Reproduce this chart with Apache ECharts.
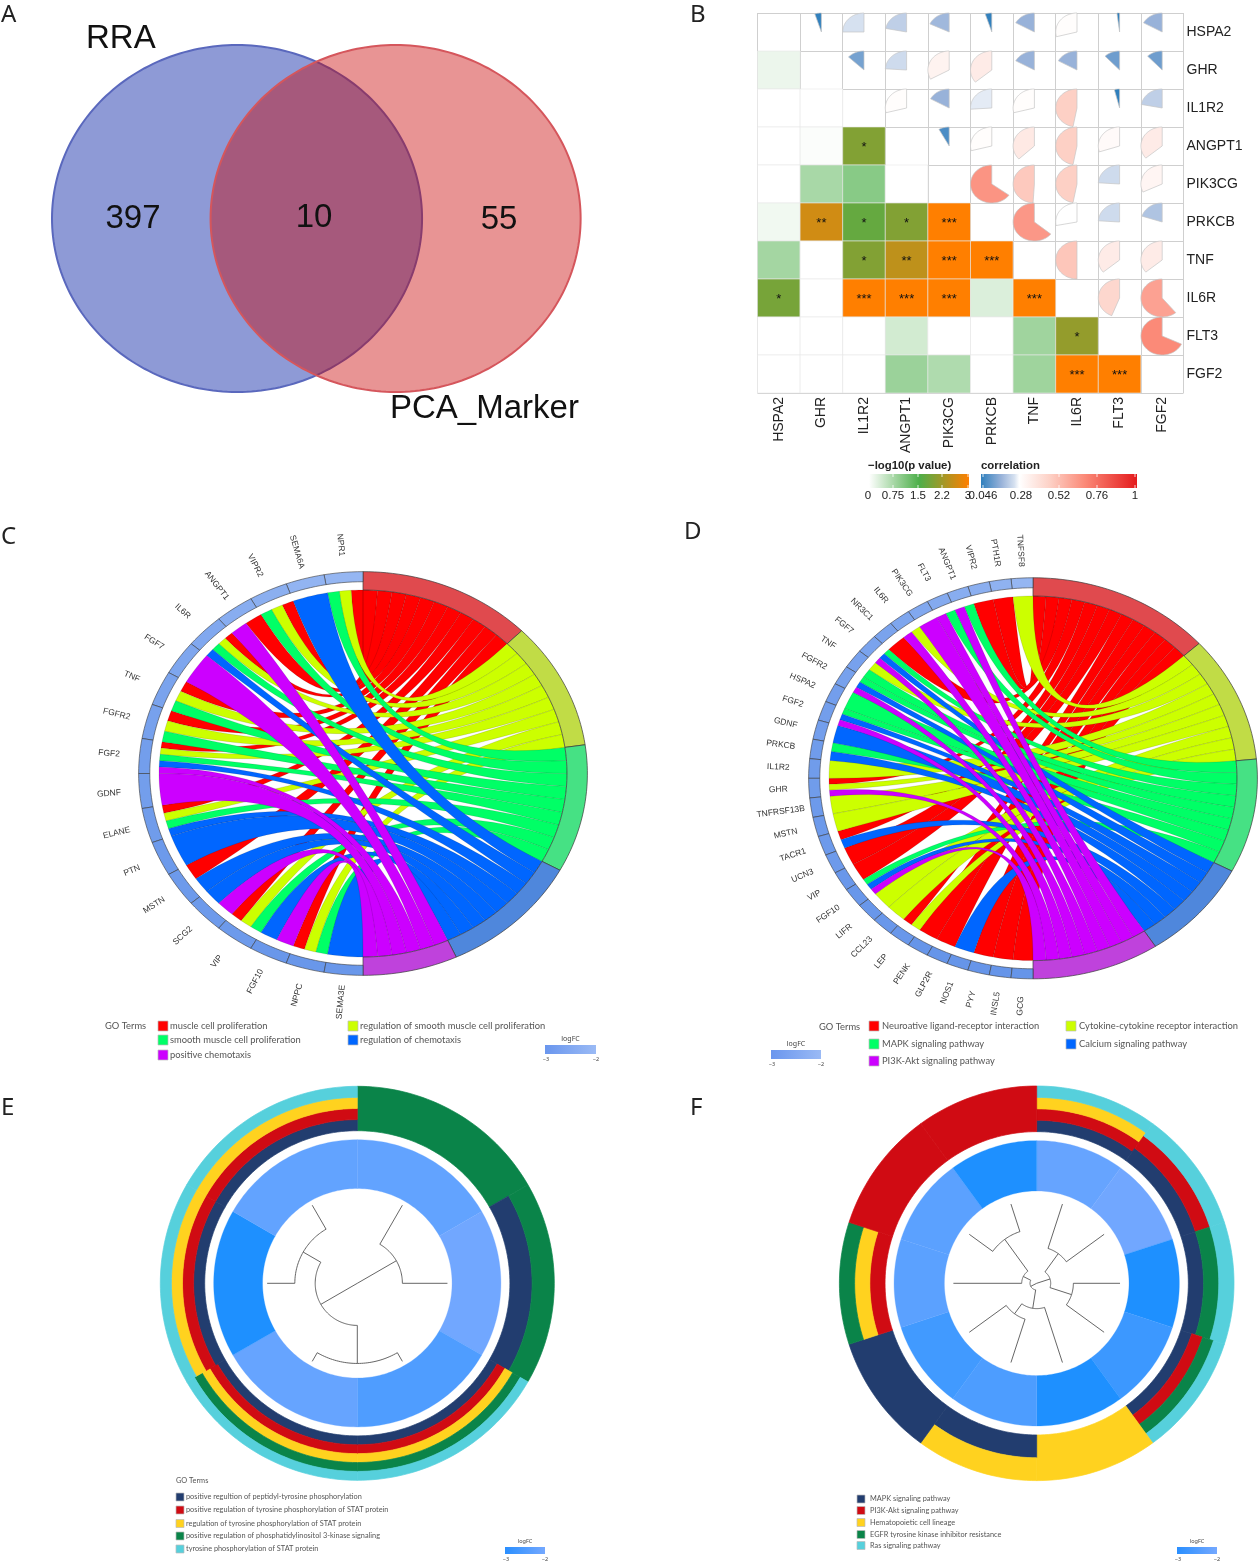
<!DOCTYPE html>
<html>
<head>
<meta charset="utf-8">
<title>figure</title>
<script src="https://cdn.jsdelivr.net/npm/echarts@6/dist/echarts.min.js"></script>
<style>
    html, body { margin: 0; background: #fff; }
    #main { width: 1259px; height: 1562px; }
</style>
</head>
<body>
<div id="main"></div>
<script>
// A: venn
var vennNames = ['RRA', 'PCA_Marker'];
var vennCounts = [397, 10, 55];

// B: correlation matrix
var corrGenes = ['HSPA2', 'GHR', 'IL1R2', 'ANGPT1', 'PIK3CG', 'PRKCB', 'TNF', 'IL6R', 'FLT3', 'FGF2'];
var logPRows = [
    [],
    [0.16],
    [0, 0],
    [0, 0.03, 1.95],
    [0, 0.73, 1, 0],
    [0.12, 2.6, 1.7, 1.95, 3],
    [0.77, 0, 1.95, 2.45, 3, 3],
    [1.85, 0, 3, 3, 3, 0.3, 3],
    [0, 0, 0, 0.38, 0, 0, 0.8, 2.1],
    [0, 0, 0, 0.84, 0.67, 0, 0.81, 3, 3]
];
var corrRows = [
    [0.05, 0.25, 0.22, 0.18, 0.05, 0.17, 0.29, 0.02, 0.17],
    [0.13, 0.24, 0.33, 0.36, 0.17, 0.17, 0.12, 0.12],
    [0.29, 0.17, 0.26, 0.29, 0.47, 0.04, 0.22],
    [0.08, 0.29, 0.37, 0.47, 0.3, 0.36],
    [0.65, 0.49, 0.47, 0.24, 0.32],
    [0.64, 0.28, 0.24, 0.2],
    [0.5, 0.36, 0.36],
    [0.44, 0.61],
    [0.68]
];
var logPTicks = ['0', '0.75', '1.5', '2.2', '3'];
var corrTicks = ['0.046', '0.28', '0.52', '0.76', '1'];

// C: chord of GO terms
var chordCTerms = ['muscle cell proliferation', 'regulation of smooth muscle cell proliferation', 'smooth muscle cell proliferation', 'regulation of chemotaxis', 'positive chemotaxis'];
var chordCGenes = ['NPR1', 'SEMA6A', 'VIPR2', 'ANGPT1', 'IL6R', 'FGF7', 'TNF', 'FGFR2', 'FGF2', 'GDNF', 'ELANE', 'PTN', 'MSTN', 'SCG2', 'VIP', 'FGF10', 'NPPC', 'SEMA3E'];
var chordCLogFC = [-2.2, -2.25, -2.35, -2.4, -2.5, -2.55, -2.6, -2.65, -2.7, -2.7, -2.75, -2.8, -2.8, -2.8, -2.8, -2.85, -2.85, -2.85];
var chordCMembers = [[0, 1, 2], [3], [0, 1, 2], [0, 4], [0, 1, 2, 3], [4], [0, 1, 2], [0, 1, 2], [0, 1, 2, 3, 4], [4], [0, 1, 2, 3], [3], [0, 3], [3, 4], [0, 1, 2], [3, 4], [0, 1, 2], [3]];

// D: chord of pathways
var chordDTerms = ['Neuroative ligand-receptor interaction', 'Cytokine-cytokine receptor interaction', 'MAPK signaling pathway', 'Calcium signaling pathway', 'PI3K-Akt signaling pathway'];
var chordDGenes = ['TNFSF8', 'PTH1R', 'VIPR2', 'ANGPT1', 'FLT3', 'PIK3CG', 'IL6R', 'NR3C1', 'FGF7', 'TNF', 'FGFR2', 'HSPA2', 'FGF2', 'GDNF', 'PRKCB', 'IL1R2', 'GHR', 'TNFRSF13B', 'MSTN', 'TACR1', 'UCN3', 'VIP', 'FGF10', 'LIFR', 'CCL23', 'LEP', 'PENK', 'GLP2R', 'NOS1', 'PYY', 'INSL5', 'GCG'];
var chordDLogFC = [-2.2, -2.3, -2.35, -2.4, -2.45, -2.5, -2.55, -2.6, -2.6, -2.65, -2.65, -2.7, -2.7, -2.7, -2.75, -2.75, -2.75, -2.8, -2.8, -2.8, -2.8, -2.85, -2.85, -2.85, -2.85, -2.85, -2.9, -2.9, -2.9, -2.9, -2.9, -2.9];
var chordDMembers = [[1], [0], [0], [2, 4], [2, 4], [4], [1, 4], [0], [2, 3, 4], [1, 2], [2, 3, 4], [2], [2, 3, 4], [3], [2, 3], [1], [0, 1, 4], [1], [1], [0, 3], [0], [0], [2, 3, 4], [1], [1], [0, 1], [0], [0], [3], [0], [0], [0]];
var chordColors = ['#ff0000', '#ccff00', '#00ff66', '#0066ff', '#cc00ff'];
var chordRingColors = ['#e04a4e', '#c1dc46', '#46e184', '#4f87dc', '#bf42dc'];

// E, F: gene clusters
var clusterColors = ['#223d6f', '#d00b13', '#ffd21f', '#0a8449', '#56d0dc'];
var clusterETerms = ['positive regultion of peptidyl-tyrosine phosphorylation', 'positive regulation of tyrosine phosphorylation of STAT protein', 'regulation of tyrosine phosphorylation of STAT protein', 'positive regulation of phosphatidylinositol 3-kinase signaling', 'tyrosine phosphorylation of STAT protein'];
var clusterELogFC = [-2.22, -2.05, -2.44, -2.17, -3, -2.22];
var clusterEMembers = [[3], [0, 3], [0, 1, 2, 3, 4], [0, 1, 2, 3, 4], [0, 1, 2, 4], [0, 1, 2, 4]];
var clusterETree = [0, [0.5, 0, 1], [0.467, [0.889, 2, 3], [0.693, 4, 5]]];

var clusterFTerms = ['MAPK signaling pathway', 'PI3K-Akt signaling pathway', 'Hematopoietic cell lineage', 'EGFR tyrosine kinase inhibitor resistance', 'Ras signaling pathway'];
var clusterFLogFC = [-2.17, -2.05, -3, -2.65, -3, -2.46, -2.6, -2.3, -2.3, -3];
var clusterFMembers = [[0, 1, 2, 4], [0, 1, 4], [0, 3, 4], [0, 1, 3, 4], [2], [0, 2], [0], [1, 2, 3], [1], [1]];
var clusterFTree = [0, [0.168, [0.44, 0, 1], [0.44, 2, 3]], [0.08, [0.304, 4, [0.452, 5, 6]], [0.18, 7, [0.652, 8, 9]]]];

var SANS = '"Liberation Sans", Arial, sans-serif';
var NOTO = '"Noto Sans", "Open Sans", sans-serif';
var LATO = 'Lato, "Noto Sans", sans-serif';

var logPStops = [[0, '#ffffff'], [1.5, '#4daf4a'], [3, '#ff7f00']];
var corrStops = [[0.046, '#2f7fbd'], [0.17, '#98b2d9'], [0.25, '#d6e1f0'], [0.28, '#ffffff'], [0.47, '#fdd0c5'], [0.68, '#fb8a78'], [1, '#e41a1c']];

function scaleColor(stops, v) {
    for (var i = 1; i < stops.length; i++) {
        if (v <= stops[i][0]) {
            var t = (v - stops[i - 1][0]) / (stops[i][0] - stops[i - 1][0]);
            return echarts.color.lerp(Math.max(t, 0), [stops[i - 1][1], stops[i][1]]);
        }
    }
    return stops[stops.length - 1][1];
}

// angles are degrees clockwise from north, radii in axis units
function polar(r, deg) {
    var a = deg * Math.PI / 180;
    return [r * Math.sin(a), r * Math.cos(a)];
}

function arcPoints(api, r, a0, a1) {
    var n = Math.max(2, Math.ceil(Math.abs(a1 - a0) / 1.5));
    var pts = [];
    for (var i = 0; i <= n; i++) {
        pts.push(api.coord(polar(r, a0 + (a1 - a0) * i / n)));
    }
    return pts;
}

function sectorPoints(api, r0, r1, a0, a1) {
    return arcPoints(api, r1, a0, a1).concat(arcPoints(api, r0, a1, a0));
}

// quadratic curve with its control point in the centre
function curvePoints(api, from, to) {
    var pts = [];
    for (var i = 1; i < 30; i++) {
        var t = i / 30;
        var u = 1 - t;
        pts.push(api.coord([u * u * from[0] + t * t * to[0], u * u * from[1] + t * t * to[1]]));
    }
    return pts;
}

function hiddenAxis(gridIndex, min, max) {
    return { type: 'value', gridIndex: gridIndex, min: min, max: max, show: false };
}

function unitGrid(cx, cy, rx, ry) {
    return { left: cx - rx, top: cy - ry, width: 2 * rx, height: 2 * ry };
}

var grids = [
    { left: 52, top: 45, width: 529, height: 347 },
    { left: 757.5, top: 13, width: 426, height: 380 },
    unitGrid(363, 773.5, 204, 183.5),
    unitGrid(1033, 778.3, 204, 182.3),
    unitGrid(357.3, 1283.3, 197, 197),
    unitGrid(1036.7, 1283.3, 197.3, 197.3)
];

var xAxes = [
    hiddenAxis(0, 0, 2.859),
    {
        type: 'category', gridIndex: 1, data: corrGenes, position: 'bottom',
        axisLine: { show: false }, axisTick: { show: false },
        splitLine: { show: true, lineStyle: { color: '#cfcfcf', width: 1 } },
        axisLabel: { rotate: 90, interval: 0, fontFamily: SANS, fontSize: 14, color: '#222', margin: 4 }
    },
    hiddenAxis(2, -1, 1), hiddenAxis(3, -1, 1), hiddenAxis(4, -1, 1), hiddenAxis(5, -1, 1)
];
var yAxes = [
    hiddenAxis(0, 0, 2),
    {
        type: 'category', gridIndex: 1, data: corrGenes, position: 'right', inverse: true,
        axisLine: { show: false }, axisTick: { show: false },
        splitLine: { show: true, lineStyle: { color: '#cfcfcf', width: 1 } },
        axisLabel: { interval: 0, fontFamily: SANS, fontSize: 14, color: '#222', margin: 3, padding: [4, 0, 0, 0] }
    },
    hiddenAxis(2, -1, 1), hiddenAxis(3, -1, 1), hiddenAxis(4, -1, 1), hiddenAxis(5, -1, 1)
];

var series = [];

// A
var vennFill = ['rgba(30,54,174,0.5)', 'rgba(200,0,0,0.42)'];
var vennStroke = ['#5a68bd', '#d5565c'];
series.push({
    type: 'custom', xAxisIndex: 0, yAxisIndex: 0, silent: true,
    data: [[1, 1], [1.857, 1]],
    renderItem: function (params, api) {
        var cx = api.value(0), cy = api.value(1), pts = [];
        for (var d = 0; d < 360; d += 1.5) {
            var p = polar(1, d);
            pts.push(api.coord([cx + p[0], cy + p[1]]));
        }
        return {
            type: 'polygon', shape: { points: pts },
            style: { fill: vennFill[params.dataIndex], stroke: vennStroke[params.dataIndex], lineWidth: 2 }
        };
    }
});

// B
var logPCells = [];
logPRows.forEach(function (row, r) {
    row.forEach(function (v, c) { logPCells.push([c, r, v]); });
});
var corrCells = [];
corrRows.forEach(function (row, r) {
    row.forEach(function (v, c) { corrCells.push([r + 1 + c, r, v]); });
});

function starsFor(v) {
    if (v >= 2.9) return '***';
    if (v >= 2.3) return '**';
    if (v >= 1.3) return '*';
    return '';
}

series.push({
    type: 'custom', xAxisIndex: 1, yAxisIndex: 1, silent: true,
    data: logPCells,
    renderItem: function (params, api) {
        var c = api.coord([api.value(0), api.value(1)]);
        var s = api.size([1, 1]);
        var v = api.value(2);
        return {
            type: 'group',
            children: [{
                type: 'rect',
                shape: { x: c[0] - s[0] / 2, y: c[1] - s[1] / 2, width: s[0], height: s[1] },
                style: { fill: scaleColor(logPStops, v), stroke: '#e8e8e8', lineWidth: 0.6 }
            }, {
                type: 'text', x: c[0], y: c[1] + 1,
                style: { text: starsFor(v), font: '13px ' + SANS, fill: '#111', align: 'center', verticalAlign: 'middle' }
            }]
        };
    }
});
series.push({
    type: 'custom', xAxisIndex: 1, yAxisIndex: 1, silent: true,
    data: corrCells,
    renderItem: function (params, api) {
        var c = api.coord([api.value(0), api.value(1)]);
        var s = api.size([1, 1]);
        var v = api.value(2);
        var pts = [c];
        var sweep = v * 360;
        for (var i = 0; i <= 40; i++) {
            var p = polar(1, -sweep * i / 40);
            pts.push([c[0] + p[0] * s[0] / 2, c[1] - p[1] * s[1] / 2]);
        }
        return {
            type: 'polygon', shape: { points: pts },
            style: { fill: scaleColor(corrStops, v), stroke: '#c6c6c6', lineWidth: 0.7 }
        };
    }
});

// C, D
function addChord(gridIndex, genes, logFC, members) {
    var counts = [0, 0, 0, 0, 0];
    members.forEach(function (m) {
        m.forEach(function (t) { counts[t]++; });
    });
    var total = counts.reduce(function (a, b) { return a + b; }, 0);
    var geneStep = 180 / genes.length;
    var ribbonStep = 180 / total;
    var termStart = [];
    var used = 0;
    counts.forEach(function (n, t) {
        termStart[t] = used;
        used += n * ribbonStep;
    });
    var next = termStart.slice();
    var ribbons = [];
    members.forEach(function (m, g) {
        m.forEach(function (t, k) {
            var g0 = 360 - g * geneStep - k * geneStep / m.length;
            var g1 = g0 - geneStep / m.length;
            ribbons.push([g0, g1, next[t], next[t] + ribbonStep, t]);
            next[t] += ribbonStep;
        });
    });
    ribbons.sort(function (a, b) { return a[4] - b[4]; });

    series.push({
        type: 'custom', xAxisIndex: gridIndex, yAxisIndex: gridIndex, silent: true,
        data: ribbons,
        renderItem: function (params, api) {
            var g0 = api.value(0), g1 = api.value(1), t0 = api.value(2), t1 = api.value(3);
            var pts = arcPoints(api, 1, g0, g1)
                .concat(curvePoints(api, polar(1, g1), polar(1, t1)))
                .concat(arcPoints(api, 1, t1, t0))
                .concat(curvePoints(api, polar(1, t0), polar(1, g0)));
            return {
                type: 'polygon', shape: { points: pts },
                style: { fill: chordColors[api.value(4)], stroke: 'rgba(0,0,0,0.3)', lineWidth: 0.4 }
            };
        }
    });
    series.push({
        type: 'custom', xAxisIndex: gridIndex, yAxisIndex: gridIndex, silent: true,
        data: counts.map(function (n, t) { return [termStart[t], termStart[t] + n * ribbonStep]; }),
        renderItem: function (params, api) {
            return {
                type: 'polygon',
                shape: { points: sectorPoints(api, 1, 1.1, api.value(0), api.value(1)) },
                style: { fill: chordRingColors[params.dataIndex], stroke: '#3a3a3a', lineWidth: 0.7 }
            };
        }
    });
    series.push({
        type: 'custom', xAxisIndex: gridIndex, yAxisIndex: gridIndex, silent: true,
        data: logFC.map(function (v, g) { return [360 - g * geneStep, 360 - (g + 1) * geneStep, v]; }),
        renderItem: function (params, api) {
            var a0 = api.value(0), a1 = api.value(1);
            var mid = (a0 + a1) / 2;
            var rad = mid * Math.PI / 180;
            var pos = api.coord(polar(1.25, mid));
            var t = api.value(2) + 3;
            // run the label along the stretched radius, from the outside inwards
            var rx = api.size([1, 0])[0], ry = api.size([0, 1])[1];
            var rot = Math.atan2(ry * Math.cos(rad), -rx * Math.sin(rad));
            return {
                type: 'group',
                children: [{
                    type: 'polygon',
                    shape: { points: sectorPoints(api, 1.045, 1.1, a0, a1) },
                    style: { fill: echarts.color.lerp(t, ['#5f90e8', '#a3c0f5']), stroke: '#3a3a3a', lineWidth: 0.6 }
                }, {
                    type: 'text', x: pos[0], y: pos[1], rotation: -rot,
                    style: { text: genes[params.dataIndex], font: '8.5px ' + SANS, fill: '#333', align: 'center', verticalAlign: 'middle' }
                }]
            };
        }
    });
}
addChord(2, chordCGenes, chordCLogFC, chordCMembers);
addChord(3, chordDGenes, chordDLogFC, chordDMembers);

// E, F
function addCluster(gridIndex, logFC, members, tree, ringIn, fcOut, fcIn, leafR) {
    var step = 360 / logFC.length;
    var bands = [];
    members.forEach(function (m, g) {
        m.forEach(function (t, k) { bands.push([g, t, k, m.length]); });
    });
    var lines = [];
    function walk(node) {
        if (typeof node === 'number') {
            return { angle: (node + 0.5) * step, r: leafR };
        }
        var r = node[0] * leafR;
        var kids = node.slice(1).map(walk);
        kids.forEach(function (k) { lines.push([r, k.r, k.angle, k.angle]); });
        lines.push([r, r, kids[0].angle, kids[1].angle]);
        return { angle: (kids[0].angle + kids[1].angle) / 2, r: r };
    }
    walk(tree);

    series.push({
        type: 'custom', xAxisIndex: gridIndex, yAxisIndex: gridIndex, silent: true,
        data: logFC.map(function (v, g) { return [g, v]; }),
        renderItem: function (params, api) {
            var g = api.value(0);
            var color = echarts.color.lerp(api.value(1) + 3, ['#1e90ff', '#75a8ff']);
            return {
                type: 'polygon',
                shape: { points: sectorPoints(api, fcIn, fcOut, g * step, (g + 1) * step) },
                style: { fill: color, stroke: color, lineWidth: 0.3 }
            };
        }
    });
    series.push({
        type: 'custom', xAxisIndex: gridIndex, yAxisIndex: gridIndex, silent: true,
        data: bands,
        renderItem: function (params, api) {
            var g = api.value(0), k = api.value(2), n = api.value(3);
            var h = (1 - ringIn) / n;
            var color = clusterColors[api.value(1)];
            return {
                type: 'polygon',
                shape: { points: sectorPoints(api, ringIn + k * h, ringIn + (k + 1) * h, g * step, (g + 1) * step) },
                style: { fill: color, stroke: color, lineWidth: 0.7 }
            };
        }
    });
    series.push({
        type: 'custom', xAxisIndex: gridIndex, yAxisIndex: gridIndex, silent: true,
        data: lines,
        renderItem: function (params, api) {
            var r0 = api.value(0), r1 = api.value(1), a0 = api.value(2), a1 = api.value(3);
            var pts = a0 === a1 ? [api.coord(polar(r0, a0)), api.coord(polar(r1, a0))] : arcPoints(api, r0, a0, a1);
            return {
                type: 'polyline', shape: { points: pts },
                style: { fill: 'none', stroke: '#555', lineWidth: 0.9 }
            };
        }
    });
}
addCluster(4, clusterELogFC, clusterEMembers, clusterETree, 0.7746, 0.729, 0.481, 0.4576);
addCluster(5, clusterFLogFC, clusterFMembers, clusterFTree, 0.7686, 0.723, 0.468, 0.4223);

// text, legends and colour bars
var graphics = [];

function addText(text, x, y, font, fill, align) {
    graphics.push({
        type: 'text', x: x, y: y, silent: true, z: 100,
        style: { text: text, font: font, fill: fill || '#222', align: align || 'left', verticalAlign: 'middle' }
    });
}

function addBox(x, y, w, h, fill, stroke) {
    graphics.push({
        type: 'rect', silent: true, z: 99,
        shape: { x: x, y: y, width: w, height: h },
        style: { fill: fill, stroke: stroke || 'none', lineWidth: 0.7 }
    });
}

function gradient(stops) {
    var lo = stops[0][0], hi = stops[stops.length - 1][0];
    return new echarts.graphic.LinearGradient(0, 0, 1, 0, stops.map(function (s) {
        return { offset: (s[0] - lo) / (hi - lo), color: s[1] };
    }));
}

['A', 'B', 'C', 'D', 'E', 'F'].forEach(function (letter, i) {
    var x = [1, 690, 1, 684, 1, 690][i];
    var y = [15, 15, 537, 532, 1108, 1108][i];
    addText(letter, x, y, '24px ' + NOTO);
});

addText(vennNames[0], 86, 39, '33px ' + SANS, '#111');
addText(vennNames[1], 390, 409, '33px ' + SANS, '#111');
addText(String(vennCounts[0]), 133, 219, '33px ' + SANS, '#111', 'center');
addText(String(vennCounts[1]), 314, 218, '33px ' + SANS, '#111', 'center');
addText(String(vennCounts[2]), 499, 220, '33px ' + SANS, '#111', 'center');

var BOLD = 'bold 11.4px ' + SANS;
addText('\u2212log10(p value)', 868, 466, BOLD, '#222');
addText('correlation', 981, 466, BOLD, '#222');
addBox(869, 474, 100, 14, gradient(logPStops));
addBox(981, 474, 156, 14, gradient(corrStops));
[869, 893, 918, 942, 968].forEach(function (x, i) {
    addBox(x - 0.4, 474, 0.8, 3, '#fff');
    addBox(x - 0.4, 485, 0.8, 3, '#fff');
    addText(logPTicks[i], x - (i === 0 ? 1 : 0), 496, '11.5px ' + SANS, '#222', 'center');
});
[983, 1021, 1059, 1097, 1135].forEach(function (x, i) {
    addBox(x - 0.4, 474, 0.8, 3, '#fff');
    addBox(x - 0.4, 485, 0.8, 3, '#fff');
    addText(corrTicks[i], x, 496, '11.5px ' + SANS, '#222', 'center');
});

function addFcBar(x, y, w, h, c0, c1, titleSize) {
    addText('logFC', x + w / 2, y - 6, titleSize + 'px ' + NOTO, '#444', 'center');
    graphics.push({
        type: 'rect', silent: true, z: 99,
        shape: { x: x, y: y, width: w, height: h },
        style: { fill: new echarts.graphic.LinearGradient(0, 0, 1, 0, [{ offset: 0, color: c0 }, { offset: 1, color: c1 }]) }
    });
    addText('\u22123', x + 1, y + h + 5, '5.5px ' + NOTO, '#444', 'center');
    addText('\u22122', x + w, y + h + 5, '5.5px ' + NOTO, '#444', 'center');
}

// C legend
var FONT_C = '9.35px ' + LATO;
addText('GO Terms', 105, 1026, FONT_C, '#555');
[[158, 1021, 0], [158, 1035, 2], [158, 1050, 4], [348, 1021, 1], [348, 1035, 3]].forEach(function (it) {
    addBox(it[0], it[1], 10, 10, chordColors[it[2]], '#bbb');
    addText(chordCTerms[it[2]], it[0] + 12, it[1] + 5, FONT_C, '#555');
});
addFcBar(545, 1045, 51, 9, '#6a96ee', '#9abaf5', 7);

// D legend
addText('GO Terms', 819, 1027, FONT_C, '#555');
[[869, 1021, 0], [869, 1039, 2], [869, 1056, 4], [1066, 1021, 1], [1066, 1039, 3]].forEach(function (it) {
    addBox(it[0], it[1], 10, 10, chordColors[it[2]], '#bbb');
    addText(chordDTerms[it[2]], it[0] + 13, it[1] + 5, FONT_C, '#555');
});
addFcBar(771, 1050, 50, 9, '#6a96ee', '#9abaf5', 7);

// E legend
var FONT_E = '7.35px ' + LATO;
addText('GO Terms', 176, 1481, FONT_E, '#555');
[1493, 1506, 1519.5, 1532, 1545].forEach(function (y, i) {
    addBox(176, y, 8, 8, clusterColors[i], '#bbb');
    addText(clusterETerms[i], 186, y + 4, FONT_E, '#555');
});
addFcBar(505, 1547, 40, 7, '#2a8fff', '#74a8ff', 5.5);

// F legend
[1495, 1506.5, 1518.5, 1530.5, 1541.5].forEach(function (y, i) {
    addBox(857, y, 8, 8, clusterColors[i], '#bbb');
    addText(clusterFTerms[i], 870, y + 4, FONT_E, '#555');
});
addFcBar(1177, 1547, 40, 7, '#2a8fff', '#74a8ff', 5.5);

var chart = echarts.init(document.getElementById('main'));
chart.setOption({
    animation: false,
    backgroundColor: '#fff',
    grid: grids,
    xAxis: xAxes,
    yAxis: yAxes,
    graphic: { elements: graphics },
    series: series
});
</script>
</body>
</html>
